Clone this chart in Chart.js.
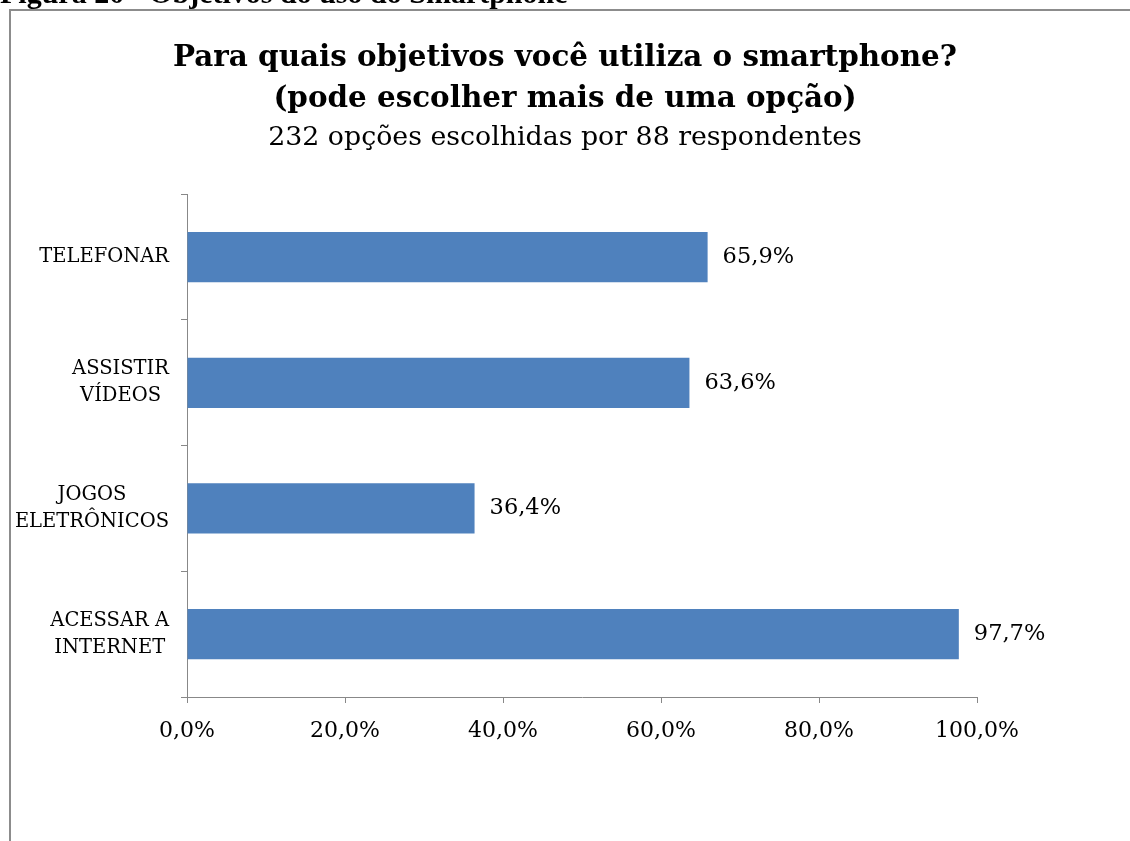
<!DOCTYPE html>
<html>
<head>
<meta charset="utf-8">
<script src="https://cdn.jsdelivr.net/npm/chart.js@4.4.1/dist/chart.umd.min.js"></script>
<style>
  html, body { margin: 0; padding: 0; background: #fff; overflow: hidden; }
  #wrap { position: relative; width: 1130px; height: 841px; }
  #chart { position: absolute; left: 0; top: 0; }
  #frame {
    position: absolute; left: 9px; top: 9px; width: 1200px; height: 900px;
    border-top: 2px solid #8c8c8c; border-left: 2px solid #8c8c8c;
    pointer-events: none;
  }
  #caption {
    position: absolute; left: 0; top: -24px; line-height: 21px;
    font: bold 30px "Liberation Serif", serif; color: #000; white-space: nowrap;
  }
</style>
</head>
<body>
<div id="wrap">
  <canvas id="chart" width="1130" height="841"></canvas>
  <div id="frame"></div>
  <div id="caption">Figura 20 - Objetivos do uso do Smartphone</div>
</div>
<script>
const categories = [
  ["TELEFONAR"],
  ["ASSISTIR", "VÍDEOS"],
  ["JOGOS", "ELETRÔNICOS"],
  ["ACESSAR A", "INTERNET"],
]
const percentValues = [65.9, 63.6, 36.4, 97.7]
const xTickValues = [0, 20, 40, 60, 80, 100]

const titleLines = ["Para quais objetivos você utiliza o smartphone?", "(pode escolher mais de uma opção)"]
const subtitleText = "232 opções escolhidas por 88 respondentes"

const serif = '"DejaVu Serif", serif'
const axisGray = "#888888"

function formatPercent(value) {
  return value.toFixed(1).replace(".", ",") + "%"
}

// category labels: block right aligned next to the axis, lines centred in the block
const categoryLabelsPlugin = {
  id: "categoryLabels",
  afterDraw(chart) {
    const { ctx } = chart
    const yScale = chart.scales.y
    const rightEdge = chart.chartArea.left - 18
    const lineHeight = 27
    ctx.save()
    ctx.font = "19.5px " + serif
    ctx.fillStyle = "#000"
    ctx.textBaseline = "middle"
    ctx.textAlign = "center"
    categories.forEach((lines, i) => {
      const centerY = yScale.getPixelForValue(i)
      const blockWidth = Math.max(...lines.map((line) => ctx.measureText(line).width))
      const centerX = rightEdge - blockWidth / 2
      const startY = centerY - ((lines.length - 1) * lineHeight) / 2
      lines.forEach((line, j) => ctx.fillText(line, centerX, startY + j * lineHeight))
    })
    ctx.restore()
  },
}

// value labels at the end of every bar
const barValuesPlugin = {
  id: "barValues",
  afterDatasetsDraw(chart) {
    const { ctx } = chart
    const meta = chart.getDatasetMeta(0)
    ctx.save()
    ctx.font = "22.5px " + serif
    ctx.fillStyle = "#000"
    ctx.textBaseline = "middle"
    ctx.textAlign = "left"
    meta.data.forEach((bar, i) => {
      ctx.fillText(formatPercent(percentValues[i]), bar.x + 15, bar.y)
    })
    ctx.restore()
  },
}

new Chart(document.getElementById("chart"), {
  type: "bar",
  data: {
    labels: categories,
    datasets: [
      {
        data: percentValues,
        backgroundColor: "#4F81BD",
        barPercentage: 0.4,
        categoryPercentage: 1,
      },
    ],
  },
  options: {
    indexAxis: "y",
    responsive: false,
    animation: false,
    layout: { padding: { left: 153, right: 153, top: 0, bottom: 0 } },
    plugins: {
      legend: { display: false },
      tooltip: { enabled: false },
      title: {
        display: true,
        text: titleLines,
        color: "#000",
        font: { family: serif, size: 29.4, weight: "bold", lineHeight: 41 / 29.4 },
        padding: { top: 38, bottom: 0 },
      },
      subtitle: {
        display: true,
        text: subtitleText,
        color: "#000",
        font: { family: serif, size: 26.8, weight: "normal", lineHeight: 1 },
        padding: { top: 5, bottom: 42.5 },
      },
    },
    scales: {
      x: {
        min: 0,
        max: 100,
        afterBuildTicks: (scale) => {
          scale.ticks = xTickValues.map((v) => ({ value: v }))
        },
        afterFit: (scale) => {
          scale.height = 144
        },
        ticks: {
          color: "#000",
          font: { family: serif, size: 22 },
          padding: 15,
          maxRotation: 0,
          callback: (value) => formatPercent(value),
        },
        grid: { drawOnChartArea: false, tickLength: 6, color: axisGray },
        border: { color: axisGray },
      },
      y: {
        afterFit: (scale) => {
          scale.width = 34
        },
        ticks: { display: false },
        grid: { offset: true, drawOnChartArea: false, tickLength: 6, color: axisGray },
        border: { color: axisGray },
      },
    },
  },
  plugins: [categoryLabelsPlugin, barValuesPlugin],
})
</script>
</body>
</html>
